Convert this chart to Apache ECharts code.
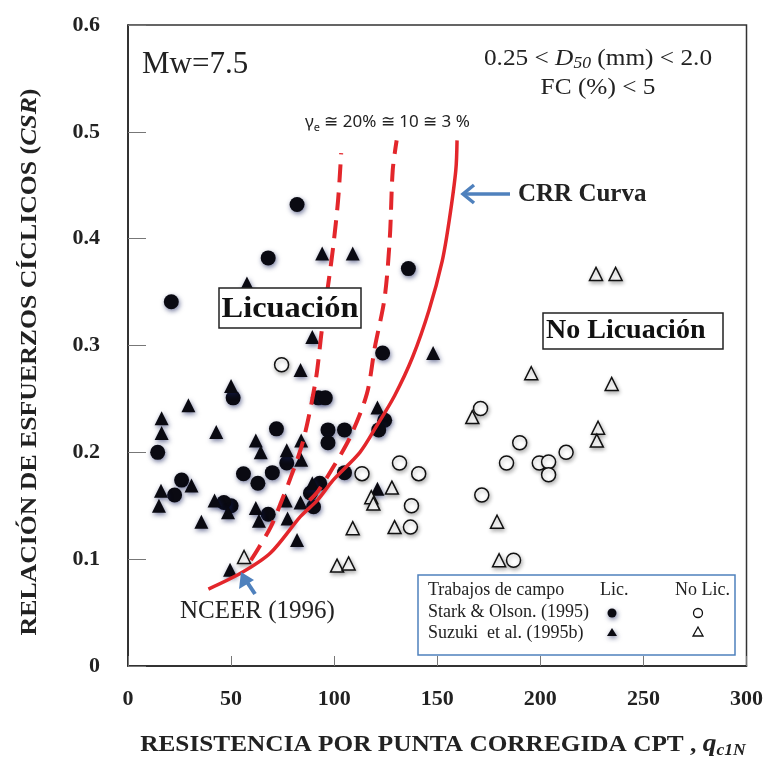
<!DOCTYPE html>
<html lang="es">
<head>
<meta charset="UTF-8" />
<title>CSR vs qc1N</title>
<style>
  html, body { margin: 0; padding: 0; background: #fff; }
  #chart { width: 766px; height: 761px; }
</style>
</head>
<body>
<div id="chart"></div>
<script src="https://cdn.jsdelivr.net/npm/echarts@6/dist/echarts.min.js"></script>
<script>
// puntos de campo [qc1N, CSR]
var starkLic = [
  [82, 0.432], [68, 0.382], [21, 0.341], [136, 0.372], [123.5, 0.293],
  [51, 0.251], [92.3, 0.251], [95.7, 0.251], [72, 0.222], [97, 0.221],
  [105, 0.221], [97, 0.209], [124.5, 0.23], [121.6, 0.221], [14.4, 0.2],
  [77, 0.19], [26, 0.174], [56, 0.18], [63, 0.171], [70, 0.181],
  [105, 0.181], [22.6, 0.16], [50, 0.15], [68, 0.142], [90, 0.149],
  [88.5, 0.162], [93, 0.171], [46.5, 0.153]
];
var suzukiLic = [
  [94.2, 0.386], [57.7, 0.358], [109, 0.386], [89.4, 0.308], [83.7, 0.277],
  [50, 0.262], [29.3, 0.244], [16.3, 0.232], [16.3, 0.218], [42.8, 0.219],
  [62, 0.211], [64.4, 0.2], [77, 0.202], [84, 0.211], [84, 0.193],
  [148, 0.293], [121, 0.242], [121, 0.166], [30.8, 0.169], [16, 0.164],
  [15, 0.15], [42, 0.155], [48.5, 0.144], [35.6, 0.135], [62, 0.148],
  [63.5, 0.136], [77.4, 0.138], [82, 0.118], [83.7, 0.153], [89.4, 0.171],
  [49.5, 0.09], [76.5, 0.155]
];
var starkNoLic = [
  [74.5, 0.282], [113.5, 0.18], [131.7, 0.19], [141, 0.18], [137.5, 0.15],
  [137, 0.13], [171, 0.241], [171.6, 0.16], [183.6, 0.19], [187, 0.099],
  [190, 0.209], [199.5, 0.19], [204, 0.191], [204, 0.179], [212.5, 0.2]
];
var suzukiNoLic = [
  [56.3, 0.102], [128, 0.167], [118, 0.158], [119, 0.152], [109, 0.129],
  [129.3, 0.13], [101.4, 0.094], [107, 0.096], [167, 0.233], [179, 0.135],
  [180, 0.099], [227, 0.367], [236.5, 0.367], [195.6, 0.274], [234.6, 0.264],
  [228, 0.223], [227.4, 0.211]
];
// curvas
var crrCurve = [
  [39, 0.072], [54.8, 0.087], [69.2, 0.106], [83.7, 0.14], [91.8, 0.155],
  [99.5, 0.174], [112.5, 0.2], [120.7, 0.225], [129.3, 0.253], [138, 0.289],
  [146, 0.333], [152.4, 0.379], [155.8, 0.417], [159, 0.464], [159.6, 0.492]
];
var gamma20Curve = [
  [59.6, 0.099], [63.5, 0.111], [69.2, 0.13], [74, 0.152], [79, 0.177],
  [85, 0.211], [91, 0.267], [94, 0.314], [97.6, 0.364], [99.5, 0.392],
  [101.9, 0.436], [103.4, 0.48]
];
var gamma10Curve = [
  [88, 0.155], [92.3, 0.164], [99.5, 0.186], [107.7, 0.214], [115.9, 0.255],
  [119.7, 0.298], [124.5, 0.345], [127, 0.401], [128.4, 0.464], [130.3, 0.492]
];

var serif = '"Liberation Serif", "DejaVu Serif", serif';
var red = '#e3262b';
var blue = '#4f81bd';
var ink = '#0a0a12';

var filledShadow = {
  shadowBlur: 5, shadowColor: 'rgba(20,30,90,0.6)', shadowOffsetX: 1, shadowOffsetY: 2
};
var openShadow = {
  shadowBlur: 4, shadowColor: 'rgba(0,0,0,0.3)', shadowOffsetX: 1, shadowOffsetY: 2
};

var myChart = echarts.init(document.getElementById('chart'));

var option = {
  animation: false,
  backgroundColor: '#fff',
  grid: {
    left: 128, right: 15, top: 25, bottom: 95,
    show: true, borderColor: '#333', borderWidth: 1.5
  },
  xAxis: {
    type: 'value', min: 0, max: 300, interval: 50,
    axisLine: { lineStyle: { color: '#222', width: 1.5 } },
    axisTick: { inside: true, length: 10, lineStyle: { color: '#777' } },
    splitLine: { show: false },
    axisLabel: { margin: 22, fontFamily: serif, fontWeight: 'bold', fontSize: 22, color: '#222' }
  },
  yAxis: {
    type: 'value', min: 0, max: 0.6, interval: 0.1,
    axisLine: { lineStyle: { color: '#222', width: 1.5 } },
    axisTick: { inside: true, length: 18, lineStyle: { color: '#777' } },
    splitLine: { show: false },
    axisLabel: {
      margin: 28, fontFamily: serif, fontWeight: 'bold', fontSize: 22, color: '#222',
      padding: [0, 0, 8, 0],
      formatter: function (v) { return v === 0 ? '0' : v.toFixed(1); }
    }
  },
  series: [
    {
      name: 'Stark Lic', type: 'scatter', data: starkLic, symbol: 'circle', symbolSize: 15,
      itemStyle: Object.assign({ color: ink, opacity: 1 }, filledShadow)
    },
    {
      name: 'Suzuki Lic', type: 'scatter', data: suzukiLic, symbol: 'triangle', symbolSize: 14,
      itemStyle: Object.assign({ color: ink, opacity: 1 }, filledShadow)
    },
    {
      name: 'Stark No Lic', type: 'scatter', data: starkNoLic, symbol: 'circle', symbolSize: 14,
      itemStyle: Object.assign({ color: '#fff', borderColor: '#111', borderWidth: 1.5, opacity: 1 }, openShadow)
    },
    {
      name: 'Suzuki No Lic', type: 'scatter', data: suzukiNoLic, symbol: 'triangle', symbolSize: 13,
      itemStyle: Object.assign({ color: '#fff', borderColor: '#111', borderWidth: 1.5, opacity: 1 }, openShadow)
    },
    {
      name: 'CRR', type: 'line', data: crrCurve, smooth: 0.3, symbol: 'none',
      lineStyle: { color: red, width: 3.5 }, z: 5
    },
    {
      name: 'g20', type: 'line', data: gamma20Curve, smooth: 0.3, symbol: 'none',
      lineStyle: { color: red, width: 4, type: [18, 10] }, z: 5
    },
    {
      name: 'g10', type: 'line', data: gamma10Curve, smooth: 0.3, symbol: 'none',
      lineStyle: { color: red, width: 4, type: [18, 10] }, z: 5
    }
  ],
  graphic: [
    // títulos de ejes
    {
      type: 'text', x: 30, y: 362, rotation: Math.PI / 2, scaleX: 1.12, z: 10,
      style: {
        text: '{b|RELACIÓN DE ESFUERZOS CÍCLICOS (}{i|CSR}{b|)}',
        align: 'center', verticalAlign: 'middle',
        rich: {
          b: { fontFamily: serif, fontWeight: 'bold', fontSize: 23, fill: '#222' },
          i: { fontFamily: serif, fontWeight: 'bold', fontStyle: 'italic', fontSize: 23, fill: '#222' }
        }
      }
    },
    {
      type: 'text', x: 443, y: 745, scaleX: 1.1, z: 10,
      style: {
        text: '{b|RESISTENCIA POR PUNTA CORREGIDA CPT , }{q|q}{s|c1N}',
        align: 'center', verticalAlign: 'middle',
        rich: {
          b: { fontFamily: serif, fontWeight: 'bold', fontSize: 23, fill: '#222', verticalAlign: 'middle', lineHeight: 28 },
          q: { fontFamily: serif, fontWeight: 'bold', fontStyle: 'italic', fontSize: 25, fill: '#222', verticalAlign: 'middle', lineHeight: 28 },
          s: { fontFamily: serif, fontWeight: 'bold', fontStyle: 'italic', fontSize: 16, fill: '#222', verticalAlign: 'bottom', lineHeight: 22 }
        }
      }
    },
    // anotaciones
    {
      type: 'text', x: 142, y: 65, z: 10,
      style: { text: 'Mw=7.5', font: '31px ' + serif, fill: '#222', verticalAlign: 'middle' }
    },
    {
      type: 'text', x: 598, y: 59, scaleX: 1.1, z: 10,
      style: {
        text: '{a|0.25 < }{i|D}{s|50}{a| (mm) < 2.0}',
        align: 'center', verticalAlign: 'middle',
        rich: {
          a: { fontFamily: serif, fontSize: 23, fill: '#222', verticalAlign: 'middle', lineHeight: 26 },
          i: { fontFamily: serif, fontStyle: 'italic', fontSize: 23, fill: '#222', verticalAlign: 'middle', lineHeight: 26 },
          s: { fontFamily: serif, fontStyle: 'italic', fontSize: 16, fill: '#222', verticalAlign: 'bottom', lineHeight: 20 }
        }
      }
    },
    {
      type: 'text', x: 598, y: 88, scaleX: 1.1, z: 10,
      style: { text: 'FC (%) < 5', font: '23px ' + serif, fill: '#222', align: 'center', verticalAlign: 'middle' }
    },
    {
      type: 'text', x: 305, y: 122, z: 10,
      style: {
        text: '{a|γ}{s|e}{a| ≅ 20% ≅ 10 ≅ 3 %}',
        verticalAlign: 'middle',
        rich: {
          a: { fontFamily: '"Noto Sans", sans-serif', fontSize: 17, fill: '#222', verticalAlign: 'middle', lineHeight: 22 },
          s: { fontFamily: '"Noto Sans", sans-serif', fontSize: 11, fill: '#222', verticalAlign: 'bottom', lineHeight: 18 }
        }
      }
    },
    {
      type: 'text', x: 518, y: 195, z: 10,
      style: { text: 'CRR Curva', font: 'bold 25px ' + serif, fill: '#222', verticalAlign: 'middle' }
    },
    {
      type: 'text', x: 180, y: 611, z: 10,
      style: { text: 'NCEER (1996)', font: '25px ' + serif, fill: '#222', verticalAlign: 'middle' }
    },
    // cajas de zona
    {
      type: 'rect', z: 9, shape: { x: 219, y: 288, width: 142, height: 40 },
      style: { fill: '#fff', stroke: '#222', lineWidth: 1.5 }
    },
    {
      type: 'text', x: 290, y: 309, scaleX: 1.08, z: 10,
      style: { text: 'Licuación', font: 'bold 30px ' + serif, fill: '#111', align: 'center', verticalAlign: 'middle' }
    },
    {
      type: 'rect', z: 9, shape: { x: 543, y: 313, width: 180, height: 36 },
      style: { fill: '#fff', stroke: '#222', lineWidth: 1.5 }
    },
    {
      type: 'text', x: 546, y: 331, z: 10,
      style: { text: 'No Licuación', font: 'bold 28px ' + serif, fill: '#111', verticalAlign: 'middle' }
    },
    // flechas
    {
      type: 'line', z: 10, shape: { x1: 510, y1: 194, x2: 464, y2: 194 },
      style: { stroke: blue, lineWidth: 3.5 }
    },
    {
      type: 'polyline', z: 10, shape: { points: [[474, 185], [463, 194], [474, 203]] },
      style: { stroke: blue, lineWidth: 3.5, fill: null }
    },
    {
      type: 'line', z: 10, shape: { x1: 255, y1: 594, x2: 245, y2: 579 },
      style: { stroke: blue, lineWidth: 4 }
    },
    {
      type: 'polygon', z: 10, shape: { points: [[241, 572], [239, 589], [254, 580]] },
      style: { fill: blue }
    },
    // leyenda
    {
      type: 'rect', z: 9, shape: { x: 418, y: 575, width: 317, height: 80 },
      style: { fill: 'rgba(255,255,255,0)', stroke: blue, lineWidth: 1.5 }
    },
    { type: 'text', x: 428, y: 590, z: 10, style: { text: 'Trabajos de campo', font: '18px ' + serif, fill: '#222', verticalAlign: 'middle' } },
    { type: 'text', x: 600, y: 590, z: 10, style: { text: 'Lic.', font: '18px ' + serif, fill: '#222', verticalAlign: 'middle' } },
    { type: 'text', x: 675, y: 590, z: 10, style: { text: 'No Lic.', font: '18px ' + serif, fill: '#222', verticalAlign: 'middle' } },
    { type: 'text', x: 428, y: 612, z: 10, style: { text: 'Stark & Olson. (1995)', font: '18px ' + serif, fill: '#222', verticalAlign: 'middle' } },
    { type: 'text', x: 428, y: 633, z: 10, style: { text: 'Suzuki  et al. (1995b)', font: '18px ' + serif, fill: '#222', verticalAlign: 'middle' } },
    {
      type: 'circle', z: 10, shape: { cx: 612, cy: 613, r: 4.5 },
      style: Object.assign({ fill: ink }, filledShadow)
    },
    {
      type: 'circle', z: 10, shape: { cx: 698, cy: 613, r: 4.5 },
      style: { fill: '#fff', stroke: '#111', lineWidth: 1.3 }
    },
    {
      type: 'polygon', z: 10, shape: { points: [[612, 628], [607, 636], [617, 636]] },
      style: Object.assign({ fill: ink }, filledShadow)
    },
    {
      type: 'polygon', z: 10, shape: { points: [[698, 627], [693, 636], [703, 636]] },
      style: { fill: '#fff', stroke: '#111', lineWidth: 1.3 }
    }
  ]
};

myChart.setOption(option);
</script>
</body>
</html>
